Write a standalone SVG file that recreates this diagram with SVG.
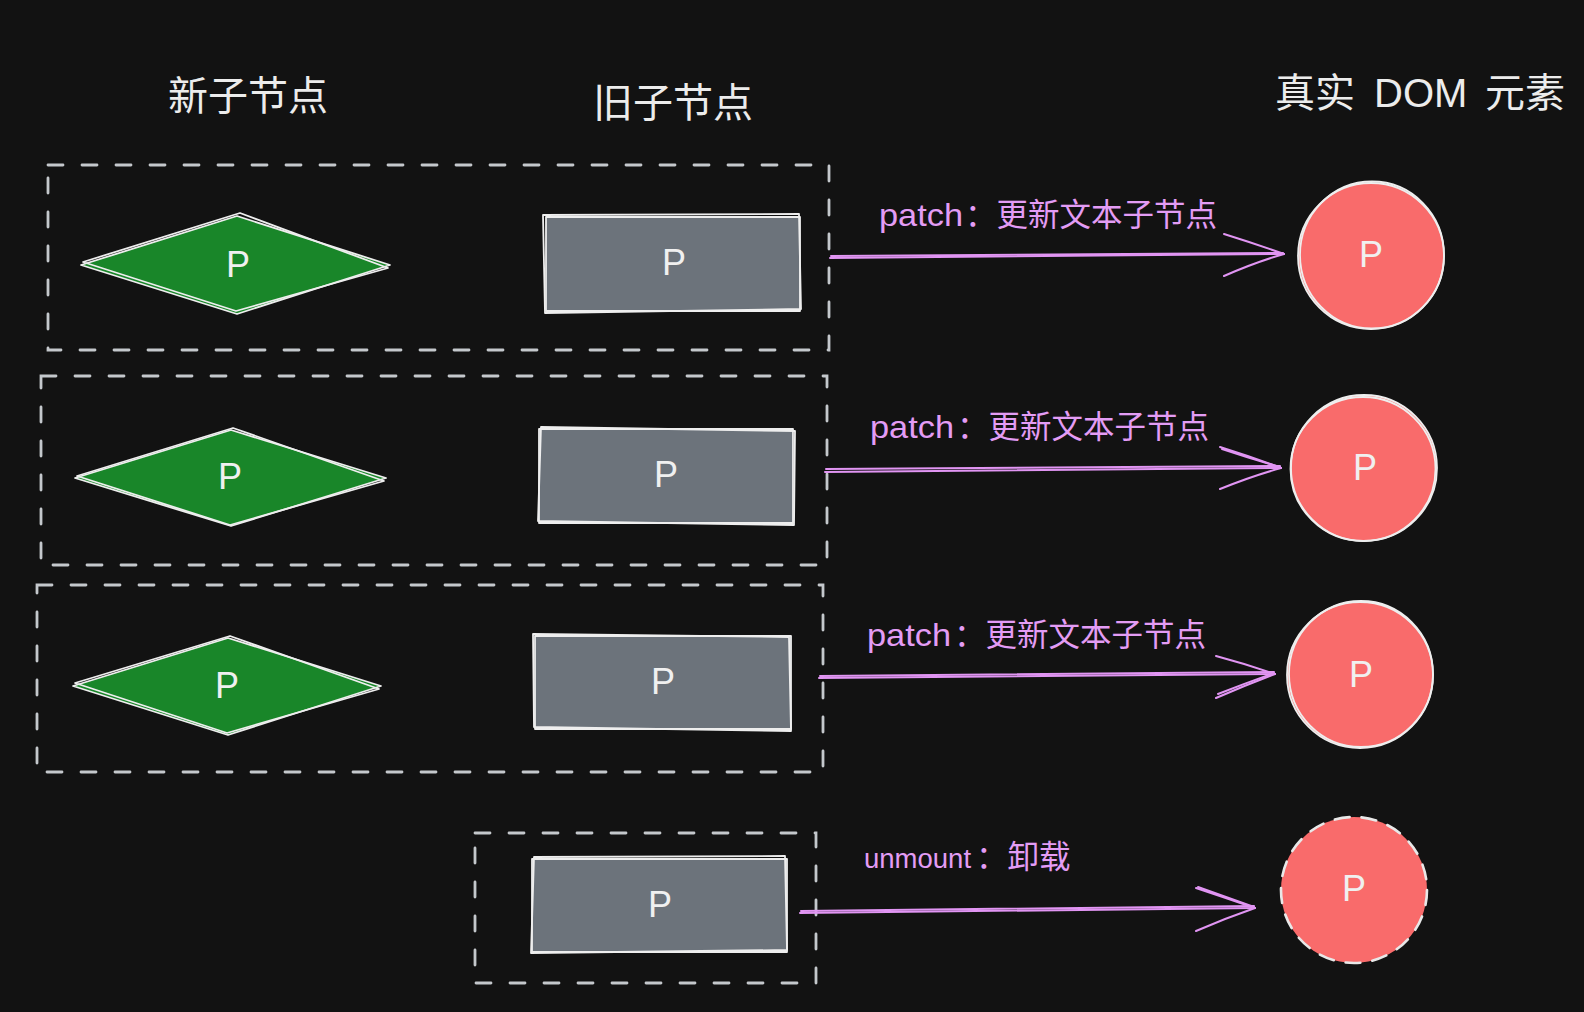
<svg xmlns="http://www.w3.org/2000/svg" width="1584" height="1012" viewBox="0 0 1584 1012">
<style>
.bg{fill:#121212}
.title{font-family:"Liberation Sans","Noto Sans CJK SC",sans-serif;font-size:40px;fill:#ececec}
.lbl{font-family:"Liberation Sans","Noto Sans CJK SC",sans-serif;font-size:31.5px;fill:#e39cf5}
.p{font-family:"Liberation Sans",sans-serif;font-size:36px;fill:#f0f0f0;text-anchor:middle}
.dash{fill:none;stroke:#c4c8cc;stroke-width:2.8;stroke-dasharray:15 19;stroke-linecap:round}
.dashc{fill:none;stroke:#e8e8e8;stroke-width:2.6;stroke-dasharray:15 12;stroke-linecap:round}
.sk{fill:none;stroke:#eeeeee;stroke-width:1.8;stroke-linejoin:round;stroke-linecap:round}
.green{fill:#198629}
.gray{fill:#6c737b}
.red{fill:#f96b6b}
.arr{fill:none;stroke:#e195f3;stroke-width:2;stroke-linecap:round}
</style>
<rect class="bg" x="0" y="0" width="1584" height="1012"/>

<g id="titles">
<text class="title" x="248" y="110" text-anchor="middle">新子节点</text>
<text class="title" x="673" y="117" text-anchor="middle">旧子节点</text>
<text class="title" y="107"><tspan x="1275">真实</tspan><tspan x="1374"> </tspan><tspan x="1374">DOM</tspan><tspan x="1467"> </tspan><tspan x="1485">元素</tspan></text>
</g>

<g id="group-boxes">
<rect id="box1" class="dash" x="48" y="165" width="781" height="185"/>
<rect id="box2" class="dash" x="41" y="376" width="786" height="189"/>
<rect id="box3" class="dash" x="37" y="585" width="786" height="187"/>
<rect id="box4" class="dash" x="475" y="833" width="341" height="150"/>
</g>

<g id="new1">
<polygon class="green" points="81,265 237,216 390,265 237,314"/>
<polygon class="sk" points="81,265 237,216 390,265 237,314"/>
<polygon class="sk" points="83,262 240,213 388,268 236,311"/>
<text class="p" x="238" y="277">P</text>
</g>
<g id="new2">
<polygon class="green" points="75,478 231,430 386,478 231,526"/>
<polygon class="sk" points="75,478 231,430 386,478 231,526"/>
<polygon class="sk" points="77,476 233,428 384,481 230,525"/>
<text class="p" x="230" y="489">P</text>
</g>
<g id="new3">
<polygon class="green" points="73,686 228,638 381,686 228,735"/>
<polygon class="sk" points="73,686 228,638 381,686 228,735"/>
<polygon class="sk" points="75,683 230,636 379,689 227,733"/>
<text class="p" x="227" y="698">P</text>
</g>

<g id="old1">
<rect class="gray" x="546" y="217" width="254" height="94"/>
<rect class="sk" x="546" y="217" width="254" height="94"/>
<path class="sk" d="M543 215 L799 214 L801 309 L545 313 Z"/>
<text class="p" x="674" y="275">P</text>
</g>
<g id="old2">
<rect class="gray" x="539" y="429" width="254" height="94"/>
<rect class="sk" x="539" y="429" width="254" height="94"/>
<path class="sk" d="M541 427 L795 431 L794 525 L538 521 Z"/>
<text class="p" x="666" y="487">P</text>
</g>
<g id="old3">
<rect class="gray" x="535" y="636" width="256" height="93"/>
<rect class="sk" x="535" y="636" width="256" height="93"/>
<path class="sk" d="M533 634 L789 637 L791 731 L534 727 Z"/>
<text class="p" x="663" y="694">P</text>
</g>
<g id="old4">
<rect class="gray" x="532" y="859" width="255" height="93"/>
<rect class="sk" x="532" y="859" width="255" height="93"/>
<path class="sk" d="M534 857 L785 856 L787 950 L531 953 Z"/>
<text class="p" x="660" y="917">P</text>
</g>

<g id="dom1">
<circle class="red" cx="1371" cy="256" r="73"/>
<circle class="sk" cx="1371" cy="256" r="73"/>
<ellipse class="sk" cx="1372" cy="255" rx="72" ry="73.5"/>
<text class="p" x="1371" y="267">P</text>
</g>
<g id="dom2">
<circle class="red" cx="1364" cy="468" r="73"/>
<circle class="sk" cx="1364" cy="468" r="73"/>
<ellipse class="sk" cx="1363" cy="469" rx="72.5" ry="72"/>
<text class="p" x="1365" y="480">P</text>
</g>
<g id="dom3">
<circle class="red" cx="1360" cy="675" r="73"/>
<circle class="sk" cx="1360" cy="675" r="73"/>
<ellipse class="sk" cx="1361" cy="674" rx="72" ry="73"/>
<text class="p" x="1361" y="687">P</text>
</g>
<g id="dom4">
<circle class="red" cx="1354" cy="890" r="73"/>
<circle class="dashc" cx="1354" cy="890" r="73"/>
<text class="p" x="1354" y="901">P</text>
</g>

<g id="connectors">
<g id="arrow1">
<path class="arr" d="M830 258 L1284 254"/>
<path class="arr" d="M831 256 L1283 253"/>
<path class="arr" d="M1224 234 Q1256 244 1284 254"/>
<path class="arr" d="M1224 276 Q1256 262 1284 254"/>
<text class="lbl" y="226"><tspan x="879" textLength="84" lengthAdjust="spacingAndGlyphs">patch</tspan><tspan x="965">：更新文本子节点</tspan></text>
</g>
<g id="arrow2">
<path class="arr" d="M825 472 L1281 468"/>
<path class="arr" d="M826 469 L1280 466"/>
<path class="arr" d="M1220 447 Q1252 457 1281 468"/>
<path class="arr" d="M1222 449 Q1252 459 1280 467"/>
<path class="arr" d="M1220 489 Q1252 476 1281 468"/>
<text class="lbl" y="438"><tspan x="870" textLength="84" lengthAdjust="spacingAndGlyphs">patch</tspan><tspan x="957">：更新文本子节点</tspan></text>
</g>
<g id="arrow3">
<path class="arr" d="M819 678 L1275 674"/>
<path class="arr" d="M820 676 L1274 672"/>
<path class="arr" d="M1216 656 Q1246 664 1275 674"/>
<path class="arr" d="M1216 698 Q1246 685 1275 674"/>
<path class="arr" d="M1218 694 Q1246 683 1274 673"/>
<text class="lbl" y="646"><tspan x="867" textLength="84" lengthAdjust="spacingAndGlyphs">patch</tspan><tspan x="954">：更新文本子节点</tspan></text>
</g>
<g id="arrow4">
<path class="arr" d="M800 913 L1255 908"/>
<path class="arr" d="M801 911 L1254 906"/>
<path class="arr" d="M1196 888 Q1226 898 1255 908"/>
<path class="arr" d="M1198 887 Q1226 897 1254 907"/>
<path class="arr" d="M1196 931 Q1226 918 1255 908"/>
<text class="lbl" y="868"><tspan x="864" style="font-size:27.5px">unmount</tspan><tspan x="976">：卸载</tspan></text>
</g>
</g>
</svg>
